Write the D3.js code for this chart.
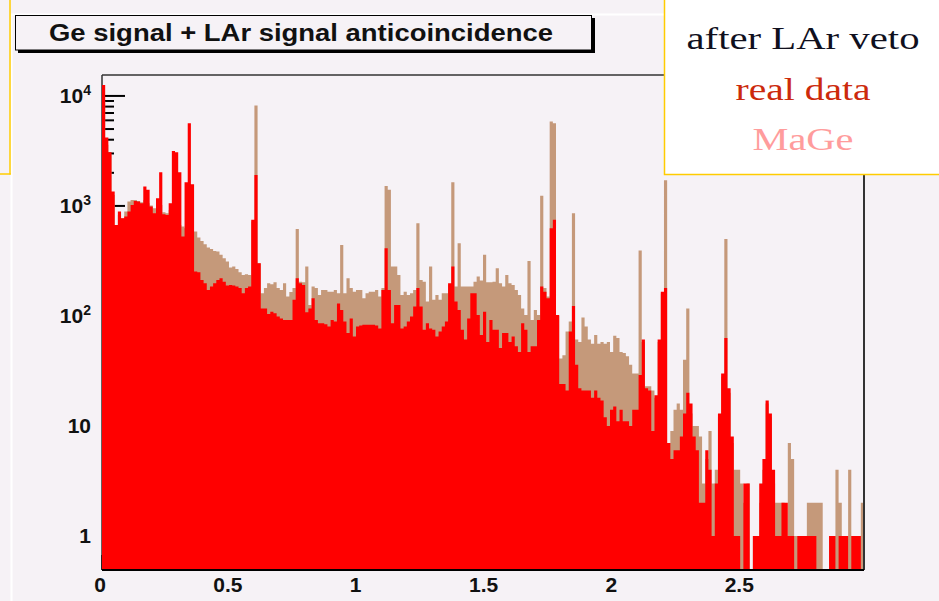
<!DOCTYPE html>
<html>
<head>
<meta charset="utf-8">
<script src="https://cdn.jsdelivr.net/npm/d3@7"></script>
<style>
  html, body { margin: 0; padding: 0; background: #f6f2f6; }
  svg { display: block; }
</style>
</head>
<body>
<svg id="chart" width="939" height="601"></svg>
<script>
// Energy spectrum after the LAr veto: measured counts vs. MaGe simulation,
// 240 equal bins spanning the energy axis (MeV).
const energyMax = 2.98;
const binCount = 240;

const realData = [
  12600, 4200, 3080, 1350, 672, 889, 773, 800, 889, 1020,
  1110, 1095, 1057, 1500, 1400, 986, 858, 1175, 2020, 840,
  828, 1057, 3160, 3080, 2020, 527, 1640, 5650, 1575, 253,
  250, 212, 198, 172, 185, 198, 212, 220, 205, 189,
  191, 189, 185, 179, 161, 179, 185, 747, 1910, 301,
  117, 117, 104, 109, 106, 99, 95, 92, 92, 92,
  140, 220, 198, 191, 108, 117, 145, 92, 86, 86,
  84, 80, 92, 89, 130, 113, 89, 70, 95, 65,
  80, 82, 83, 83, 83, 83, 82, 77, 172, 412,
  172, 86, 126, 126, 77, 80, 89, 99, 122, 179,
  122, 75, 86, 77, 75, 65, 72, 80, 89, 198,
  281, 135, 113, 75, 61, 95, 161, 161, 102, 67,
  109, 58, 92, 75, 75, 51, 70, 70, 58, 65,
  53, 47, 86, 75, 47, 53, 53, 92, 185, 166,
  145, 627, 747, 102, 24, 24, 21, 72, 123, 36,
  22, 21, 21, 21, 18, 21, 18, 17, 12, 10,
  14, 15, 11, 14, 11, 11, 10, 14, 14, 29,
  61, 22, 21, 9, 19, 61, 166, 179, 7, 5,
  6, 6, 8, 13, 20, 16, 8, 6, 2, 2,
  6, 4, 1, 3, 13, 30, 63, 22, 8, 1,
  1, 0, 3, 3, 0, 1, 1, 3, 5, 17,
  13, 4, 1, 1, 2, 2, 1, 1, 0, 1,
  1, 1, 1, 1, 1, 0, 0, 0, 0, 1,
  1, 0, 1, 1, 1, 0, 1, 1, 1, 0
];

const mageData = [
  9000, 3600, 2900, 1260, 649, 828, 773, 889, 1095, 1135,
  1135, 1110, 1080, 1135, 1057, 1007, 952, 1020, 1020, 877,
  858, 920, 952, 828, 672, 649, 627, 585, 585, 585,
  516, 481, 449, 418, 406, 390, 385, 359, 334, 312,
  275, 281, 267, 250, 236, 239, 236, 722, 8170, 301,
  161, 179, 198, 194, 202, 179, 172, 198, 150, 165,
  179, 618, 205, 202, 281, 126, 185, 179, 155, 172,
  172, 166, 166, 172, 161, 442, 161, 220, 179, 166,
  172, 172, 145, 161, 166, 166, 172, 150, 179, 1520,
  1400, 281, 281, 236, 155, 166, 155, 161, 172, 696,
  212, 205, 135, 281, 140, 155, 140, 161, 161, 190,
  1640, 185, 458, 185, 185, 185, 185, 205, 228, 210,
  359, 202, 202, 205, 271, 198, 185, 236, 198, 191,
  172, 155, 117, 102, 316, 92, 113, 102, 1240, 179,
  150, 5850, 5650, 100, 41, 44, 72, 89, 858, 61,
  58, 97, 80, 61, 56, 67, 56, 58, 56, 58,
  47, 66, 63, 47, 46, 43, 36, 30, 30, 393,
  58, 23, 23, 21, 18, 58, 160, 1710, 7, 9,
  14, 16, 14, 40, 117, 13, 10, 10, 8, 3,
  5, 9, 3, 4, 12, 28, 500, 20, 7, 4,
  4, 3, 2, 3, 0, 1, 1, 2, 4, 16,
  12, 3, 2, 2, 2, 1, 7, 5, 1, 1,
  1, 1, 2, 2, 2, 2, 2, 0, 0, 1,
  1, 4, 2, 1, 1, 4, 1, 1, 1, 2
];

const xTickLabels = [0, 0.5, 1, 1.5, 2, 2.5];
const yDecades = [1, 10, 100, 1000, 10000];
const titleText = "Ge signal + LAr signal anticoincidence";
const legendLines = ["after LAr veto", "real data", "MaGe"];
const legendColors = ["#10101e", "#cc2a0c", "#ff9c9c"];

const svg = d3.select("#chart");
const frame = { left: 102, right: 864, top: 75, bottom: 570 };
const binWidth = energyMax / binCount;

const x = d3.scaleLinear().domain([0, energyMax]).range([frame.left, frame.right]);
const y = d3.scaleLog().domain([0.49, 15500]).range([frame.bottom, frame.top]);

// page background and pad border
svg.append("rect").attr("width", 939).attr("height", 601).attr("fill", "#f6f2f6");
svg.append("line").attr("x1", 11).attr("x2", 664).attr("y1", 14.5).attr("y2", 14.5)
  .attr("stroke", "#ffffff").attr("stroke-width", 2);
svg.append("line").attr("x1", 11.5).attr("x2", 11.5).attr("y1", 14).attr("y2", 601)
  .attr("stroke", "#ffffff").attr("stroke-width", 2);

// title box with drop shadow
svg.append("rect").attr("x", 18).attr("y", 18).attr("width", 577).attr("height", 35).attr("fill", "#000");
svg.append("rect").attr("x", 15.5).attr("y", 15.5).attr("width", 576).attr("height", 34.5)
  .attr("fill", "#f6f2f6").attr("stroke", "#000").attr("stroke-width", 1);
svg.append("text")
  .attr("x", 301).attr("y", 41)
  .attr("text-anchor", "middle")
  .attr("font-family", "'Liberation Sans', Arial, sans-serif")
  .attr("font-weight", "bold")
  .attr("font-size", 23)
  .attr("textLength", 504)
  .attr("lengthAdjust", "spacingAndGlyphs")
  .attr("fill", "#111")
  .text(titleText);

// axis ticks (drawn beneath the histograms)
const ticks = svg.append("g").attr("stroke", "#000").attr("stroke-width", 2);
const yMinor = [];
for (let e = -1; e <= 4; e++) {
  for (let m = 2; m <= 9; m++) {
    const v = m * Math.pow(10, e);
    if (v > y.domain()[0] && v < y.domain()[1]) yMinor.push(v);
  }
}
ticks.selectAll(".ymin").data(yMinor).join("line")
  .attr("x1", frame.left).attr("x2", frame.left + 12)
  .attr("y1", d => y(d)).attr("y2", d => y(d));
ticks.selectAll(".ymaj").data(yDecades).join("line")
  .attr("x1", frame.left).attr("x2", frame.left + 23)
  .attr("y1", d => y(d)).attr("y2", d => y(d));

const xMinor = d3.range(0, 30).map(i => i / 10).filter(v => v <= energyMax && Math.abs(v * 2 - Math.round(v * 2)) > 1e-6);
ticks.selectAll(".xmin").data(xMinor).join("line")
  .attr("x1", d => x(d)).attr("x2", d => x(d))
  .attr("y1", frame.bottom).attr("y2", frame.bottom - 8);
ticks.selectAll(".xmaj").data(xTickLabels).join("line")
  .attr("x1", d => x(d)).attr("x2", d => x(d))
  .attr("y1", frame.bottom).attr("y2", frame.bottom - 15);

svg.append("line").attr("x1", frame.left).attr("x2", frame.left)
  .attr("y1", frame.top).attr("y2", frame.bottom).attr("stroke", "#333").attr("stroke-width", 1.5);

// histograms as filled bins; empty bins are left out on the log scale
function histPath(values) {
  const p = d3.path();
  values.forEach((v, i) => {
    if (!(v > 0)) return;
    const x0 = x(i * binWidth), x1 = x((i + 1) * binWidth);
    const yTop = y(v);
    p.rect(x0, yTop, x1 - x0, frame.bottom - yTop);
  });
  return p.toString();
}
svg.append("path").attr("d", histPath(mageData)).attr("fill", "#c5997a");
svg.append("path").attr("d", histPath(realData)).attr("fill", "#ff0000");

// frame
svg.append("line").attr("x1", frame.left).attr("x2", frame.right).attr("y1", frame.top).attr("y2", frame.top)
  .attr("stroke", "#333").attr("stroke-width", 1.5);
svg.append("line").attr("x1", frame.right).attr("x2", frame.right).attr("y1", frame.top).attr("y2", frame.bottom)
  .attr("stroke", "#333").attr("stroke-width", 2);
svg.append("line").attr("x1", frame.left).attr("x2", frame.right).attr("y1", frame.bottom).attr("y2", frame.bottom)
  .attr("stroke", "#000").attr("stroke-width", 2);

// tick labels
const labelFont = "'Liberation Sans', Arial, sans-serif";
svg.selectAll(".xlab").data(xTickLabels).join("text")
  .attr("x", d => x(d) - 2).attr("y", 592)
  .attr("text-anchor", "middle")
  .attr("font-family", labelFont).attr("font-weight", "bold").attr("font-size", 21)
  .attr("fill", "#111")
  .text(d => d3.format("")(d));

const ylab = svg.selectAll(".ylab").data(yDecades).join("text")
  .attr("x", 91).attr("y", d => y(d) + 7.5)
  .attr("text-anchor", "end")
  .attr("font-family", labelFont).attr("font-weight", "bold").attr("font-size", 21)
  .attr("fill", "#111");
ylab.each(function (d) {
  const t = d3.select(this);
  const e = Math.round(Math.log10(d));
  if (e <= 1) {
    t.text(String(d));
  } else {
    t.append("tspan").text("10");
    t.append("tspan").attr("dy", -8).attr("font-size", 14).text(String(e));
  }
});

// legend panel
svg.append("rect").attr("x", 664.5).attr("y", -5).attr("width", 290).attr("height", 179.5)
  .attr("fill", "#ffffff").attr("stroke", "#ffcc00").attr("stroke-width", 1.5);
const legendWidths = [233, 135, 101];
const legendBaselines = [49, 100, 150];
svg.selectAll(".leg").data(legendLines).join("text")
  .attr("x", 803).attr("y", (d, i) => legendBaselines[i])
  .attr("text-anchor", "middle")
  .attr("font-family", "'Liberation Serif', 'Times New Roman', serif")
  .attr("font-size", 31)
  .attr("textLength", (d, i) => legendWidths[i])
  .attr("lengthAdjust", "spacingAndGlyphs")
  .attr("fill", (d, i) => legendColors[i])
  .text(d => d);

// gold corner rule on the left
svg.append("line").attr("x1", 10).attr("x2", 10).attr("y1", 0).attr("y2", 174.5)
  .attr("stroke", "#ffcc00").attr("stroke-width", 1.5);
svg.append("line").attr("x1", 0).attr("x2", 10.75).attr("y1", 174).attr("y2", 174)
  .attr("stroke", "#ffcc00").attr("stroke-width", 1.5);
</script>
</body>
</html>
